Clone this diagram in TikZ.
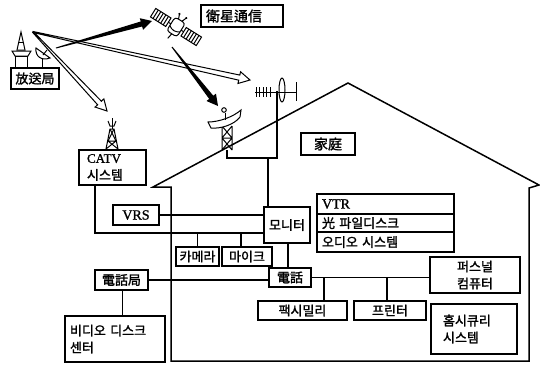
\documentclass[tikz,border=0pt]{standalone}
\usepackage{fontspec}
\setmainfont{Liberation Serif}[FakeBold=1.2]
\newfontfamily\kr{Noto Sans CJK KR}[FakeBold=1.6]
\usetikzlibrary{calc}

% tapered beam arrow: #1 path style, #2 tail, #3 tip
\newcommand\beam[3]{%
  \coordinate (neck) at ($(#3)!11pt!(#2)$);
  \path[#1] ($(#2)!0.5pt!90:(#3)$) -- ($(neck)!2.6pt!90:(#3)$)
    -- ($(neck)!6pt!90:(#3)$) -- (#3) -- ($(neck)!6pt!-90:(#3)$)
    -- ($(neck)!2.6pt!-90:(#3)$) -- ($(#2)!0.5pt!-90:(#3)$) -- cycle;}

\begin{document}
\begin{tikzpicture}[x=1pt,y=-1pt,
  box/.style={draw,line width=1.7pt,fill=white,inner sep=0pt,
    font=\kr\fontsize{13}{17}\selectfont,align=center},
  wire/.style={line width=1.5pt},
  wall/.style={line width=1.5pt,line join=miter},
  part/.style={line width=1pt},
  hollow/.style={draw,line width=1pt,fill=white,line join=miter},
  solid/.style={fill=black},
]
\useasboundingbox (0,0) rectangle (540,365);

% house
\draw[wall] (153,187) -- (171,187) -- (171,361) -- (529,361) -- (529,188)
  -- (539,185) -- (348,83) -- cycle;

% broadcasting station
\draw[part,fill=white] (21,32) -- (17,50) -- (25,50) -- cycle;
\draw[part] (19,42) -- (23,42);
\draw[part,fill=white] (12,51) -- (31,51) -- (28,56) -- (15,56) -- cycle;
\draw[part,fill=white] (15,56) rectangle (27,68);
\draw[part] (42,57) -- (42,68);
\draw[part,fill=white] (36,48) .. controls (35,57) and (42,61) .. (50,58) -- cycle;
\draw[part] (43,55) -- (47,50);

% satellite
\begin{scope}[shift={(176,27)},rotate=-32]
  \draw[part,fill=white] (-27,-5) rectangle (-9,5);
  \draw[part,fill=white] (9,-5) rectangle (27,5);
  \foreach \x in {-24,-21,...,-12} \draw[part] (\x,-5) -- (\x,5);
  \foreach \x in {12,15,...,24} \draw[part] (\x,-5) -- (\x,5);
  \draw[part] (-9,0) -- (-6,0) (6,0) -- (9,0);
  \draw[part,fill=white,rounded corners=3pt] (-6,-8) rectangle (6,8);
  \draw[part] (-6,2) .. controls (-2,5) and (2,5) .. (6,2);
  \draw[part] (-2,-8) -- (-4,-13) (2,-8) -- (4,-13) (0,8) -- (-1,14);
  \fill (-4,-13) circle (1.2) (4,-13) circle (1.2);
\end{scope}

% CATV tower
\draw[part] (112,118) -- (112,129);
\draw[part] (108,121) -- (110,126) -- (114,126) -- (116,121);
\draw[part] (106,149) -- (110,129) -- (114,129) -- (118,149);
\draw[part] (110,129) -- (116,141) (114,129) -- (108,141)
  (108,141) -- (118,149) (116,141) -- (106,149) (108,141) -- (116,141);

% dish on the roof
\draw[part] (222,126) -- (222,150) (232,126) -- (232,150) (222,138) -- (232,138)
  (222,126) -- (232,138) (232,126) -- (222,138)
  (222,138) -- (232,150) (232,138) -- (222,150);
\draw[part,fill=white] (208,122) .. controls (219,122) and (233,117) .. (241,110)
  -- (240,117) .. controls (234,125) and (220,129) .. (211,128) -- cycle;
\draw[part] (225,120) -- (225,113);
\draw[part] (224,110) circle (2.3);

% aerial
\draw[part] (255,92) -- (296,92);
\foreach \x in {256,259.5,263,266.5,270} \draw[part] (\x,87) -- (\x,97);
\draw[part] (282,90) ellipse (3 and 12);
\draw[part] (296,82) -- (296,101);

\coordinate (dishfoot) at (227,150);
\coordinate (mastfoot) at (277,158);
\coordinate (feed) at (268,158);
\draw[wire] (dishfoot) -- (dishfoot |- mastfoot) -- (mastfoot) -- (277,91);

% beams
\coordinate (towertop) at (33,32);
\coordinate (bcastout) at (56,48);
\coordinate (satin) at (152,21);
\coordinate (satout) at (172,47);
\coordinate (dishin) at (218,106);
\coordinate (antin) at (250,80);
\coordinate (catvin) at (107,111);
\beam{hollow}{towertop}{antin}
\beam{hollow}{towertop}{catvin}
\beam{solid}{bcastout}{satin}
\beam{solid}{satout}{dishin}

% boxes
\node[box,minimum height=22pt,text width=72pt,inner xsep=5pt,align=left,
  font=\kr\fontsize{14}{17}\selectfont] (sat) at (242,16) {衛星通信};
\node[box,minimum width=48pt,minimum height=21pt] (bcast) at (35,78.5) {放送局};
\node[box,minimum height=35pt,text width=51pt,inner xsep=8pt,align=left]
  (catv) at (112.5,167.5) {{\rmfamily CATV}\\시스템};
\node[box,minimum width=54pt,minimum height=22pt,
  font=\kr\fontsize{14}{17}\selectfont] (home) at (328,144) {家庭};
\node[box,minimum width=46pt,minimum height=20pt,
  font=\rmfamily\fontsize{14}{17}\selectfont] (vrs) at (136,215) {VRS};
\node[box,minimum width=46pt,minimum height=36pt] (monitor) at (287,225) {모니터};
\node[box,minimum width=43pt,minimum height=19pt] (camera) at (197.5,256.5) {카메라};
\node[box,minimum width=50pt,minimum height=19pt] (mic) at (247,256.5) {마이크};
\node[box,minimum width=42pt,minimum height=19pt] (phone) at (290,277.5) {電話};
\node[box,minimum width=53pt,minimum height=20pt] (office) at (121.5,280) {電話局};
\node[box,minimum height=46pt,text width=90pt,inner xsep=5pt,align=left]
  (vdisc) at (115,339) {비디오 디스크\\센터};
\node[box,minimum height=20pt,text width=127pt,inner xsep=5pt,align=left,
  font=\rmfamily\fontsize{14}{17}\selectfont] (vtr) at (385.5,204) {VTR};
\node[box,minimum height=18pt,text width=127pt,inner xsep=5pt,align=left]
  (optical) at (385.5,223) {光 파일디스크};
\node[box,minimum height=20pt,text width=127pt,inner xsep=5pt,align=left]
  (audio) at (385.5,242) {오디오 시스템};
\node[box,minimum width=89pt,minimum height=19pt] (fax) at (302.5,310.5) {팩시밀리};
\node[box,minimum width=72pt,minimum height=19pt] (printer) at (390,310.5) {프린터};
\node[box,minimum width=90pt,minimum height=36pt] (pc) at (475,275) {퍼스널\\컴퓨터};
\node[box,minimum height=50pt,text width=62pt,inner xsep=12pt,align=left]
  (security) at (474,329) {홈시큐리\\시스템};

% wiring
\coordinate (bus) at (95,233);
\draw[wire] (feed) -- (feed |- monitor.north);
\draw[wire] (vrs.east) -- (vrs.east -| monitor.west);
\draw[wire] (catv.south -| bus) -- (bus) -- (bus -| monitor.west);
\draw[wire] (camera.north) -- (camera.north |- bus);
\draw[wire] ([xshift=-6pt]mic.north) -- ([xshift=-6pt]mic.north |- bus);
\draw[wire] ([xshift=1pt]monitor.south) -- ([xshift=1pt]monitor.south |- phone.north);
\draw[wire] (office.east) -- (office.east -| phone.west);
\draw[wire] ([xshift=1pt]office.south) -- ([xshift=1pt]office.south |- vdisc.north);
\draw[wire] (phone.east) -- (phone.east -| pc.west);
\draw[wire] ([xshift=21.5pt]fax.north) -- ([xshift=21.5pt]fax.north |- phone.east);
\draw[wire] ([xshift=-3pt]printer.north) -- ([xshift=-3pt]printer.north |- phone.east);
\end{tikzpicture}
\end{document}
